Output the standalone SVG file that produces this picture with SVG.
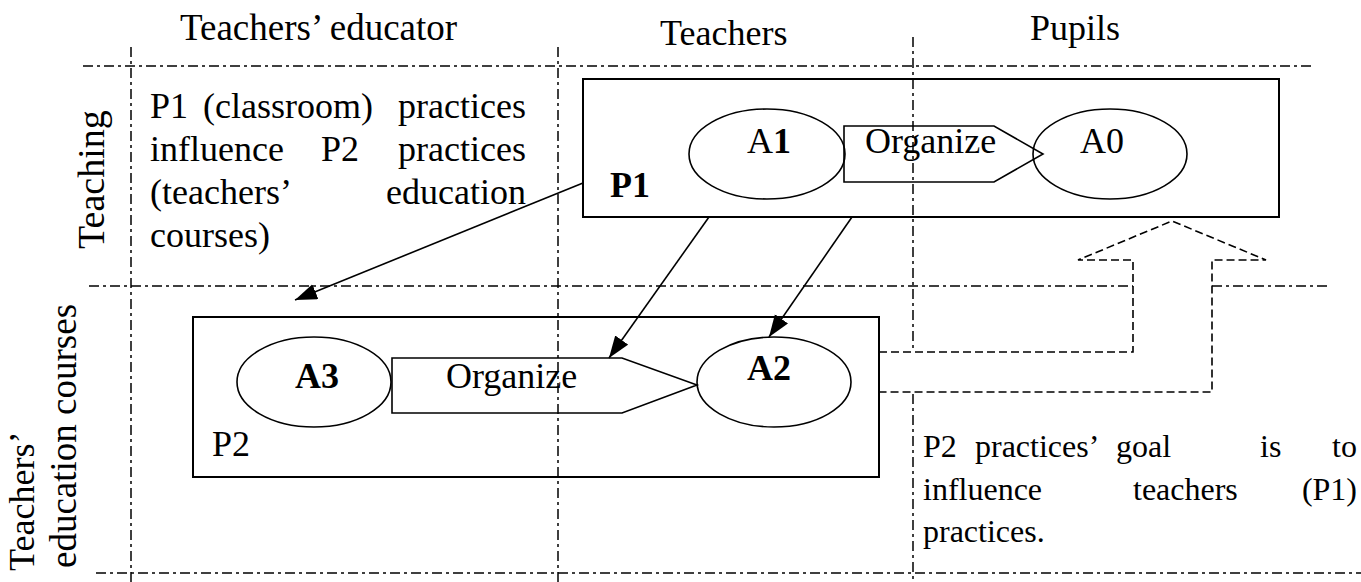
<svg xmlns="http://www.w3.org/2000/svg" width="1361" height="582" viewBox="0 0 1361 582" font-family="'Liberation Serif', 'Times New Roman', 'DejaVu Serif', serif">
<style>
text{font-family:'Liberation Serif','Times New Roman','DejaVu Serif',serif;font-size:36px;fill:#000}
.b{font-weight:bold}
.r{font-size:32px}
.grid{stroke:#000;stroke-width:1.5;stroke-dasharray:10 4 3 4;fill:none}
.box{stroke:#000;stroke-width:2;fill:none}
.sh{stroke:#000;stroke-width:1.6;fill:none}
.arr{stroke:#000;stroke-width:1.6;fill:none;marker-end:url(#ah)}
</style>
<defs>
<marker id="ah" markerUnits="userSpaceOnUse" markerWidth="24" markerHeight="18" refX="22" refY="8" orient="auto">
<path d="M0,0 L22,8 L0,16 z" fill="#000"/>
</marker>
</defs>
<rect width="1361" height="582" fill="#fff"/>
<g id="grid">
<line class="grid" x1="83" y1="66" x2="1315" y2="66"/>
<line class="grid" x1="89" y1="286" x2="1133" y2="286"/>
<line class="grid" x1="1212" y1="286" x2="1330" y2="286"/>
<line class="grid" x1="96" y1="573" x2="1361" y2="573"/>
<line class="grid" x1="131" y1="47" x2="131" y2="582"/>
<line class="grid" x1="558" y1="47" x2="558" y2="582"/>
<line class="grid" x1="913" y1="37" x2="913" y2="582"/>
</g>
<g id="headers">
<text x="180" y="40" style="font-size:37px">Teachers’ educator</text>
<text x="660" y="45">Teachers</text>
<text x="1030" y="40">Pupils</text>
<text transform="translate(104,249) rotate(-90)" style="font-size:38px">Teaching</text>
<text transform="translate(34,571) rotate(-90)">Teachers’</text>
<text transform="translate(76,568) rotate(-90)" style="font-size:37px">education courses</text>
</g>
<g id="note-left">
<text x="150" y="118">P1</text>
<text x="203" y="118">(classroom)</text>
<text x="526" y="118" text-anchor="end">practices</text>
<text x="150" y="161">influence</text>
<text x="321" y="161">P2</text>
<text x="526" y="161" text-anchor="end">practices</text>
<text x="150" y="204">(teachers’</text>
<text x="526" y="204" text-anchor="end">education</text>
<text x="150" y="247">courses)</text>
</g>
<g id="note-right">
<text class="r" x="923" y="457">P2</text>
<text class="r" x="975" y="457">practices’</text>
<text class="r" x="1116" y="457">goal</text>
<text class="r" x="1260" y="457">is</text>
<text class="r" x="1357" y="457" text-anchor="end">to</text>
<text class="r" x="923" y="500">influence</text>
<text class="r" x="1133" y="500">teachers</text>
<text class="r" x="1357" y="500" text-anchor="end">(P1)</text>
<text class="r" x="923" y="542">practices.</text>
</g>
<g id="goal-arrow">
<path d="M879,352 L1133,352 L1133,260 L1078,260 L1172,221 L1266,260 L1212,260 L1212,392 L879,392 Z" fill="#fff" stroke="none"/>
<path d="M879,352 L1133,352 L1133,260 L1078,260 L1172,221 L1266,260 L1212,260 L1212,392 L879,392" fill="none" stroke="#000" stroke-width="1.6" stroke-dasharray="8 4"/>
</g>
<g id="P1">
<rect class="box" x="583" y="79" width="696" height="138"/>
<text class="b" x="610" y="197">P1</text>
</g>
<g id="A1">
<ellipse class="sh" cx="767" cy="154" rx="78" ry="45"/>
<text x="747" y="153">A<tspan class="b">1</tspan></text>
</g>
<g id="organize1">
<path class="sh" d="M844,126 L994,126 L1043,154 L994,182 L844,182 Z"/>
<text x="865" y="153">Organize</text>
</g>
<g id="A0">
<ellipse class="sh" cx="1110" cy="154" rx="77" ry="45"/>
<text x="1080" y="153">A0</text>
</g>
<g id="P2">
<rect class="box" x="193" y="317" width="686" height="160"/>
<text x="212" y="456">P2</text>
</g>
<g id="A3">
<ellipse class="sh" cx="314" cy="382" rx="77" ry="45"/>
<text class="b" x="295" y="388">A3</text>
</g>
<g id="organize2">
<path class="sh" d="M392,358 L622,358 L697,385 L622,413 L392,413 Z"/>
<text x="446" y="388">Organize</text>
</g>
<g id="A2">
<ellipse class="sh" cx="774" cy="382" rx="77" ry="45"/>
<text class="b" x="747" y="380">A2</text>
</g>
<g id="connectors">
<line class="arr" x1="583" y1="183" x2="295" y2="300"/>
<line class="arr" x1="709" y1="217" x2="609" y2="358"/>
<line class="arr" x1="852" y1="217" x2="769" y2="337"/>
</g>
</svg>
